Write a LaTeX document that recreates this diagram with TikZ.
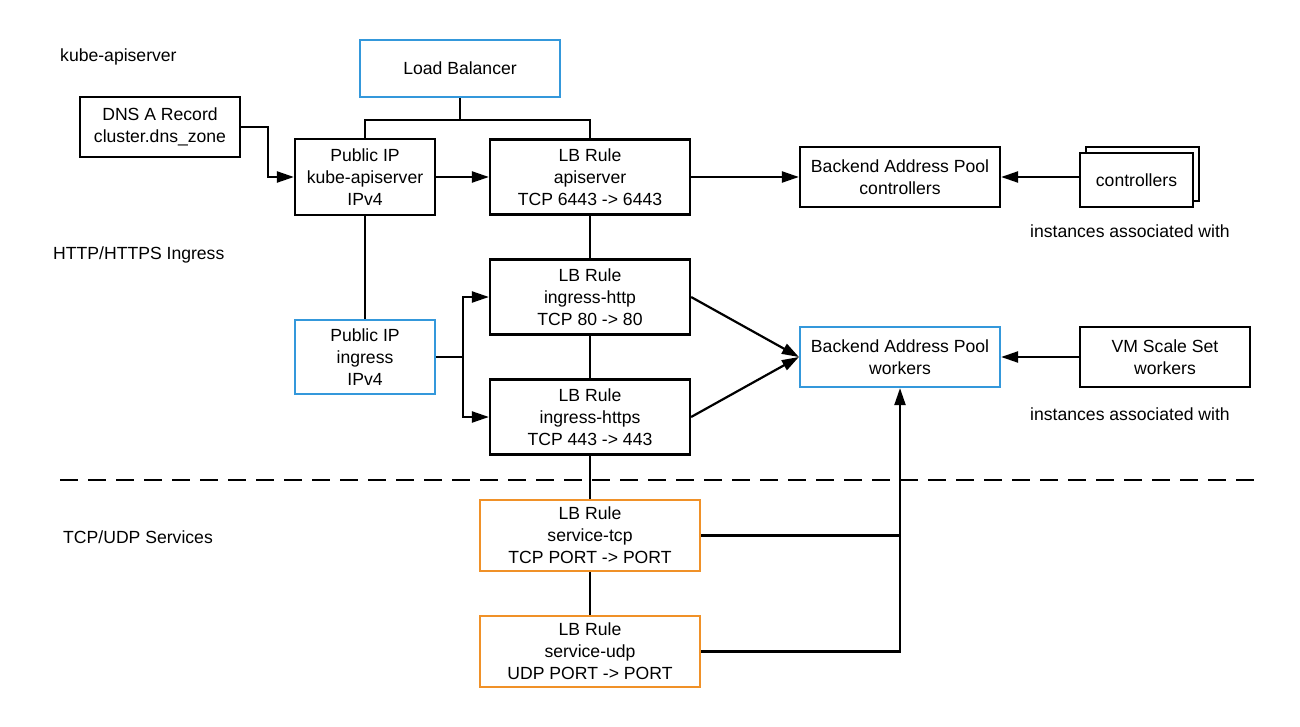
\documentclass[tikz,border=0pt]{standalone}
\usepackage{fontspec}
\setmainfont{Liberation Sans}
\usetikzlibrary{arrows.meta}
\definecolor{lblue}{RGB}{52,152,219}
\definecolor{lorange}{RGB}{240,145,40}
\begin{document}
\begin{tikzpicture}[x=1pt,y=-1pt,
  box/.style={draw, line width=2.2pt, rectangle, inner sep=0pt, align=center, fill=white,
    font=\fontsize{17.6}{21.8}\selectfont},
  conn/.style={line width=2.2pt},
  arr/.style={conn, -{Triangle[length=17pt,width=11pt]}},
  lbl/.style={font=\fontsize{17.6}{21}\selectfont, inner sep=0pt}]
\useasboundingbox (0,0) rectangle (1300,727);

\node[box, draw=lblue, minimum width=200pt, minimum height=57pt] (lb) at (460,68.5) {Load Balancer};
\node[box, minimum width=160pt, minimum height=60pt] (dns) at (160,127) {DNS A Record\\cluster.dns\_zone};
\node[box, minimum width=140pt, minimum height=76pt] (pip1) at (365,177) {Public IP\\kube-apiserver\\IPv4};
\node[box, minimum width=200pt, minimum height=75pt] (rule1) at (590,177) {LB Rule\\apiserver\\TCP 6443 -> 6443};
\node[box, minimum width=200pt, minimum height=60pt] (bpc) at (900,177) {Backend Address Pool\\controllers};
\node[box, minimum width=113pt, minimum height=54pt] (ctrlback) at (1142.5,174) {};
\node[box, minimum width=113pt, minimum height=54pt] (ctrl) at (1136.5,180) {controllers};
\node[lbl] (inst1) at (1130,231) {instances associated with};

\node[box, minimum width=200pt, minimum height=75pt] (rule2) at (590,297) {LB Rule\\ingress-http\\TCP 80 -> 80};
\node[box, draw=lblue, minimum width=140pt, minimum height=74pt] (pip2) at (365,357) {Public IP\\ingress\\IPv4};
\node[box, minimum width=200pt, minimum height=75pt] (rule3) at (590,417) {LB Rule\\ingress-https\\TCP 443 -> 443};
\node[box, draw=lblue, minimum width=200pt, minimum height=60pt] (bpw) at (900,357) {Backend Address Pool\\workers};
\node[box, minimum width=170pt, minimum height=60pt] (vmss) at (1165,357) {VM Scale Set\\workers};
\node[lbl] (inst2) at (1130,414) {instances associated with};

\node[box, draw=lorange, minimum width=220pt, minimum height=71pt] (svc1) at (590,535.5) {LB Rule\\service-tcp\\TCP PORT -> PORT};
\node[box, draw=lorange, minimum width=220pt, minimum height=71pt] (svc2) at (590,651.5) {LB Rule\\service-udp\\UDP PORT -> PORT};

\node[lbl, anchor=west] (t1) at (60,57) {kube-apiserver};
\node[lbl, anchor=west] (t2) at (53,255) {HTTP/HTTPS Ingress};
\node[lbl, anchor=west] (t3) at (63,537) {TCP/UDP Services};

\coordinate (dl) at (60,480);
\coordinate (dr) at (1262,480);
\draw[line width=2.2pt, dash pattern=on 18pt off 10pt] (dl) -- (dr);

\draw[conn] (lb.south) -- ++(0,22) coordinate (lbj);
\draw[conn] (pip1.north) |- (lbj) -| (rule1.north);
\draw[arr] (dns.east) -- ++(27,0) |- (pip1.west);
\draw[arr] (pip1.east) -- (rule1.west);
\draw[arr] (rule1.east) -- (bpc.west);
\draw[arr] (ctrl.west |- bpc.east) -- (bpc.east);
\draw[conn] (pip1.south) -- (pip2.north);
\draw[conn] (rule1.south) -- (rule2.north);
\draw[conn] (rule2.south) -- (rule3.north);
\draw[conn] (rule3.south) -- (svc1.north);
\draw[conn] (svc1.south) -- (svc2.north);
\draw[conn] (pip2.east) -- ++(27,0) coordinate (pj);
\draw[arr] (pj) |- (rule2.west);
\draw[arr] (pj) |- (rule3.west);
\draw[arr] (rule2.east) -- (bpw.west);
\draw[arr] (rule3.east) -- (bpw.west);
\draw[arr] (vmss.west) -- (bpw.east);
\draw[conn] (svc1.east) -- (svc1.east -| bpw.south);
\draw[arr] (svc2.east) -| (bpw.south);
\end{tikzpicture}
\end{document}
